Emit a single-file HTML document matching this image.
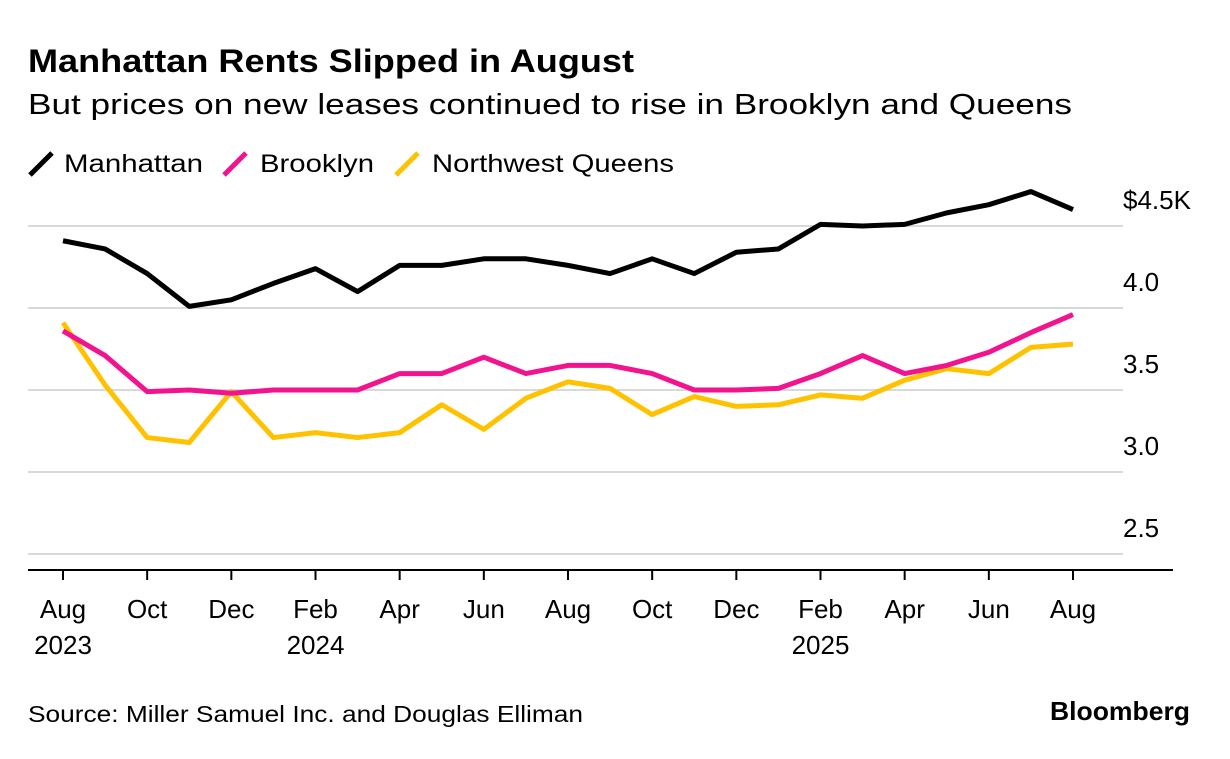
<!DOCTYPE html>
<html><head><meta charset="utf-8"><style>
body{margin:0;background:#fff;width:1230px;height:754px;overflow:hidden;font-family:"Liberation Sans",sans-serif}
</style></head><body>
<svg width="1230" height="754">
<text x="28" y="72" font-size="32" font-weight="bold" fill="#000" textLength="606" lengthAdjust="spacingAndGlyphs">Manhattan Rents Slipped in August</text>
<text x="28" y="114" font-size="29" fill="#000" textLength="1044" lengthAdjust="spacingAndGlyphs">But prices on new leases continued to rise in Brooklyn and Queens</text>
<g>
<g><line x1="30" y1="175" x2="52" y2="153" stroke="#000" stroke-width="5"/><text x="64" y="172" font-size="25" textLength="139" lengthAdjust="spacingAndGlyphs">Manhattan</text></g>
<g><line x1="224" y1="175" x2="246" y2="153" stroke="#f2138e" stroke-width="5"/><text x="260" y="172" font-size="25" textLength="114" lengthAdjust="spacingAndGlyphs">Brooklyn</text></g>
<g><line x1="396" y1="175" x2="418" y2="153" stroke="#ffc200" stroke-width="5"/><text x="432" y="172" font-size="25" textLength="242" lengthAdjust="spacingAndGlyphs">Northwest Queens</text></g>
</g>
<g id="grid"></g><g id="xaxis"></g><g id="lines"></g>
<text x="28" y="722" font-size="23" fill="#000" textLength="555" lengthAdjust="spacingAndGlyphs">Source: Miller Samuel Inc. and Douglas Elliman</text>
<text x="1050" y="720" font-size="26" font-weight="bold" fill="#000" textLength="140" lengthAdjust="spacingAndGlyphs">Bloomberg</text>
</svg>
<script>
const manhattan=[4.41,4.36,4.21,4.01,4.05,4.15,4.24,4.10,4.26,4.26,4.30,4.30,4.26,4.21,4.30,4.21,4.34,4.36,4.51,4.50,4.51,4.58,4.63,4.71,4.60];
const brooklyn=[3.86,3.71,3.49,3.50,3.48,3.50,3.50,3.50,3.60,3.60,3.70,3.60,3.65,3.65,3.60,3.50,3.50,3.51,3.60,3.71,3.60,3.65,3.73,3.85,3.96];
const queens=[3.91,3.53,3.21,3.18,3.49,3.21,3.24,3.21,3.24,3.41,3.26,3.45,3.55,3.51,3.35,3.46,3.40,3.41,3.47,3.45,3.56,3.63,3.60,3.76,3.78];
const yTicks=[4.5,4.0,3.5,3.0,2.5];
const yTickLabels=["$4.5K","4.0","3.5","3.0","2.5"];
const xTickMonths=["Aug","Oct","Dec","Feb","Apr","Jun","Aug","Oct","Dec","Feb","Apr","Jun","Aug"];
const xTickYears=["2023","","","2024","","","","","","2025","","",""];
const NS="http://www.w3.org/2000/svg";
const xs=i=>63+i*(1010/24);
const ys=v=>226+(4.5-v)*164;
function mk(t,a,p){const e=document.createElementNS(NS,t);for(const k in a)e.setAttribute(k,a[k]);p.appendChild(e);return e;}
const grid=document.getElementById('grid');
yTicks.forEach((v,i)=>{
 const l=mk('line',{x1:28,x2:1123,y1:ys(v),y2:ys(v),stroke:'#d9d9d9','stroke-width':2},grid);
 
 
 const t=mk('text',{x:1123,y:ys(v)-17,'font-size':26,fill:'#000'},grid);
 t.textContent=yTickLabels[i];
 
 
});
const xa=document.getElementById('xaxis');
const ax=mk('line',{x1:28,x2:1173,y1:570,y2:570,stroke:'#000','stroke-width':2},xa);


xTickMonths.forEach((m,i)=>{
 const x=xs(i*2);
 const tk=mk('line',{x1:x,x2:x,y1:570,y2:580,stroke:'#000','stroke-width':2},xa);
 
 
 const t=mk('text',{x:x,y:618,'font-size':26,'text-anchor':'middle'},xa);
 t.textContent=m;
 
 
 if(xTickYears[i]){const y=mk('text',{x:x,y:654,'font-size':26,'text-anchor':'middle'},xa);y.textContent=xTickYears[i];
 
 }
});
const lg=document.getElementById('lines');
[[queens,'#ffc200','queens-line'],[brooklyn,'#f2138e','brooklyn-line'],[manhattan,'#000','manhattan-line']].forEach(([d,c,n])=>{
 const p=mk('polyline',{points:d.map((v,i)=>xs(i)+','+ys(v)).join(' '),fill:'none',stroke:c,'stroke-width':5,'stroke-linejoin':'round'},lg);
 
 
});
</script>
</body></html>
